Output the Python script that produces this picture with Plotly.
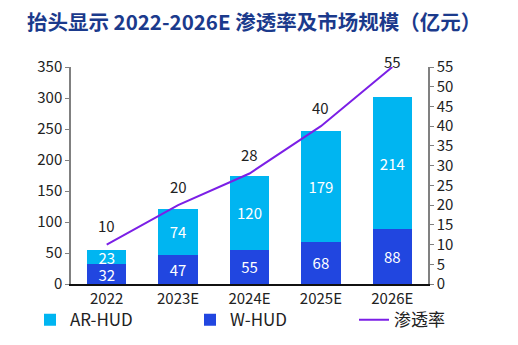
import plotly.graph_objects as go

categories = ["2022", "2023E", "2024E", "2025E", "2026E"]
w_hud = [32, 47, 55, 68, 88]
ar_hud = [23, 74, 120, 179, 214]
penetration = [10, 20, 28, 40, 55]

FONT = "Noto Sans CJK SC"
TXT = "#222222"

fig = go.Figure()
fig.add_trace(go.Bar(
    x=categories, y=w_hud, name="W-HUD", marker=dict(color="#2146E0", line=dict(width=0)),
    text=[str(v) for v in w_hud], textposition="inside", insidetextanchor="middle",
    textangle=0, constraintext="none", showlegend=True,
    textfont=dict(color="white", size=15, family=FONT), legend="legend2",
))
fig.add_trace(go.Bar(
    x=categories, y=ar_hud, name="AR-HUD", marker=dict(color="#00B5F1", line=dict(width=0)),
    text=[str(v) for v in ar_hud], textposition="inside", insidetextanchor="middle",
    textangle=0, constraintext="none", showlegend=True,
    textfont=dict(color="white", size=15, family=FONT), legend="legend",
))
fig.add_trace(go.Scatter(
    x=categories, y=penetration, name="渗透率", mode="lines", yaxis="y2", showlegend=True,
    line=dict(color="#7B1FE6", width=2), legend="legend3",
))
for i, v in enumerate(penetration):
    fig.add_annotation(x=i, y=v, xref="x", yref="y2", text=str(v), showarrow=False,
                       yshift=19 if v < 55 else 6, font=dict(size=15, color=TXT, family=FONT))

leg_common = dict(orientation="h", xref="container", yref="container", y=0.072,
                  xanchor="left", yanchor="middle",
                  font=dict(size=17, color=TXT, family=FONT), bgcolor="rgba(0,0,0,0)")

fig.update_layout(
    width=518, height=345, barmode="stack", bargap=0.45, showlegend=True,
    margin=dict(l=71, r=90, t=67, b=61, autoexpand=False),
    paper_bgcolor="white", plot_bgcolor="white",
    font=dict(family=FONT, color=TXT, size=15),
    title=dict(text="<b>抬头显示 2022-2026E 渗透率及市场规模（亿元）</b>",
               x=0.052, xanchor="left", y=0.933, yanchor="middle",
               font=dict(size=20.5, color="#1B3A8C", family=FONT)),
    xaxis=dict(type="category", categoryorder="array", categoryarray=categories,
               showline=True, linecolor="#111111", linewidth=1.5, ticks="",
               tickfont=dict(size=15, color=TXT)),
    yaxis=dict(range=[0, 350], dtick=50, showgrid=False, showline=True, linecolor="#808080",
               linewidth=1.5, ticks="outside", ticklen=4, tickcolor="#808080",
               tickfont=dict(size=15, color=TXT), zeroline=False),
    yaxis2=dict(range=[0, 55], dtick=5, overlaying="y", side="right", showgrid=False,
                showline=True, linecolor="#808080", linewidth=1.5, ticks="outside", ticklen=4,
                tickcolor="#808080", tickfont=dict(size=15, color=TXT), zeroline=False),
    legend=dict(x=30 / 518, **leg_common),
    legend2=dict(x=190 / 518, **leg_common),
    legend3=dict(x=354 / 518, **leg_common),
)

fig.write_html("out.html")
